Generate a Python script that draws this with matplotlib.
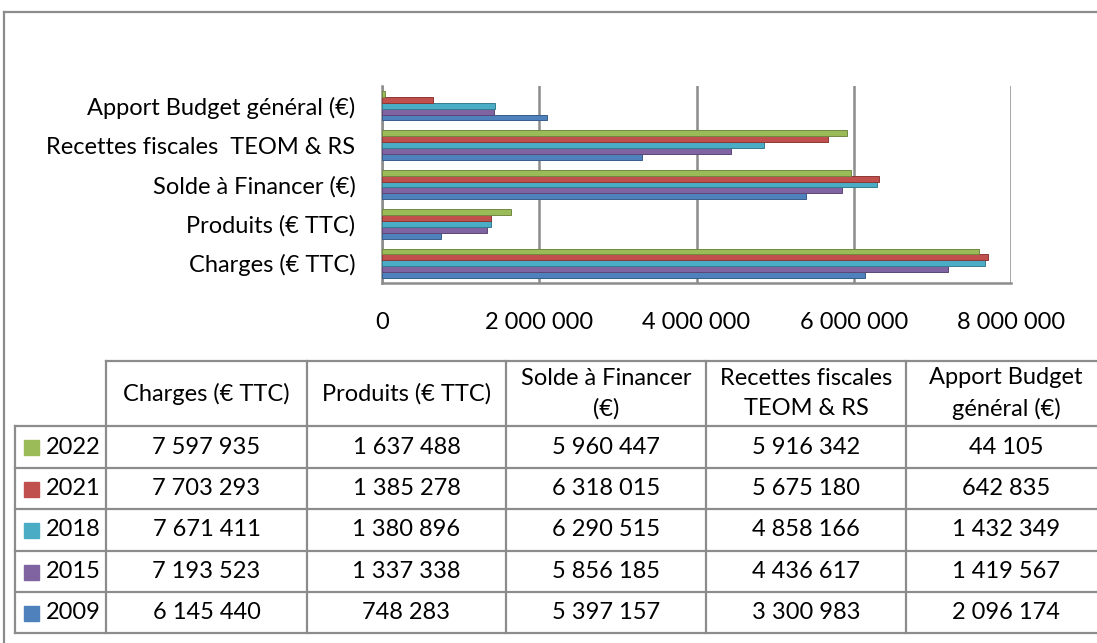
import numpy as np
import matplotlib.pyplot as plt
from matplotlib.lines import Line2D
from matplotlib.patches import Rectangle

# data
categories = ["Charges (€ TTC)", "Produits (€ TTC)", "Solde à Financer (€)",
              "Recettes fiscales  TEOM & RS", "Apport Budget général (€)"]
header_labels = ["Charges (€ TTC)", "Produits (€ TTC)", "Solde à Financer\n(€)",
                 "Recettes fiscales\nTEOM & RS", "Apport Budget\ngénéral (€)"]
years = ["2009", "2015", "2018", "2021", "2022"]
values = {
    "2009": [6145440, 748283, 5397157, 3300983, 2096174],
    "2015": [7193523, 1337338, 5856185, 4436617, 1419567],
    "2018": [7671411, 1380896, 6290515, 4858166, 1432349],
    "2021": [7703293, 1385278, 6318015, 5675180, 642835],
    "2022": [7597935, 1637488, 5960447, 5916342, 44105],
}
colors = {"2009": "#4F81BD", "2015": "#8064A2", "2018": "#4BACC6",
          "2021": "#C0504D", "2022": "#9BBB59"}
edges = {"2009": "#385d8a", "2015": "#5c4776", "2018": "#357d91",
         "2021": "#8c3836", "2022": "#71893f"}
xticks = [0, 2000000, 4000000, 6000000, 8000000]

FONT = "Lato"
FS = 17
W, H = 1097, 643

def fmt(v):
    return f"{v:,}".replace(",", " ")

fig = plt.figure(figsize=(W / 100, H / 100), dpi=100)

# chart area
ax = fig.add_axes([382 / W, 1 - 283 / H, 629 / W, 197 / H])
y = np.arange(len(categories))
h = 0.15
for i, yr in enumerate(years):
    ax.barh(y + (i - 2) * h, values[yr], height=h, color=colors[yr],
            edgecolor=edges[yr], linewidth=0.7, zorder=3)
ax.set_xlim(0, 8000000)
ax.set_ylim(-0.5, len(categories) - 0.5)
ax.set_xticks(xticks)
ax.set_xticklabels([fmt(t) for t in xticks], fontsize=FS, family=FONT)
ax.set_yticks(y)
ax.set_yticklabels(categories, fontsize=FS, family=FONT)
ax.tick_params(length=0)
ax.tick_params(axis="x", pad=21)
ax.tick_params(axis="y", pad=19)
for s in ["top", "right"]:
    ax.spines[s].set_visible(False)
for s in ["left", "bottom"]:
    ax.spines[s].set_color("#8c8c8c")
    ax.spines[s].set_linewidth(1.8)
ax.set_axisbelow(True)
ax.grid(axis="x", color="#8c8c8c", linewidth=1.8)
ax.grid(axis="y", visible=False)

# overlay for the table and frame (pixel coords)
ov = fig.add_axes([0, 0, 1, 1])
ov.set_xlim(0, W)
ov.set_ylim(H, 0)
ov.axis("off")

# outer chart frame
ov.add_line(Line2D([4, W], [12, 12], color="#8c8c8c", lw=1.6))
ov.add_line(Line2D([4, 4], [12, H], color="#8c8c8c", lw=1.6))

# data table
col_x = [15, 106, 307, 506, 706, 906, 1106]
row_y = [361, 426, 468, 509, 551, 592, 633]
lc = "#8c8c8c"
lw = 1.6
ov.add_line(Line2D([col_x[1], W], [row_y[0]] * 2, color=lc, lw=lw))
for ry in row_y[1:]:
    ov.add_line(Line2D([col_x[0], W], [ry] * 2, color=lc, lw=lw))
ov.add_line(Line2D([col_x[0]] * 2, [row_y[1], row_y[-1]], color=lc, lw=lw))
for cx in col_x[1:-1]:
    ov.add_line(Line2D([cx] * 2, [row_y[0], row_y[-1]], color=lc, lw=lw))

for j, lab in enumerate(header_labels):
    ov.text((col_x[j + 1] + col_x[j + 2]) / 2, (row_y[0] + row_y[1]) / 2, lab,
            ha="center", va="center", fontsize=FS, family=FONT,
            linespacing=1.5)

for r, yr in enumerate(years[::-1]):
    cy = (row_y[r + 1] + row_y[r + 2]) / 2
    ov.add_patch(Rectangle((24, cy - 7), 15, 15, color=colors[yr]))
    ov.text(46, cy, yr, ha="left", va="center", fontsize=FS, family=FONT)
    for j, v in enumerate(values[yr]):
        ov.text((col_x[j + 1] + col_x[j + 2]) / 2, cy, fmt(v),
                ha="center", va="center", fontsize=FS, family=FONT)

fig.savefig("out.png", dpi=100)
